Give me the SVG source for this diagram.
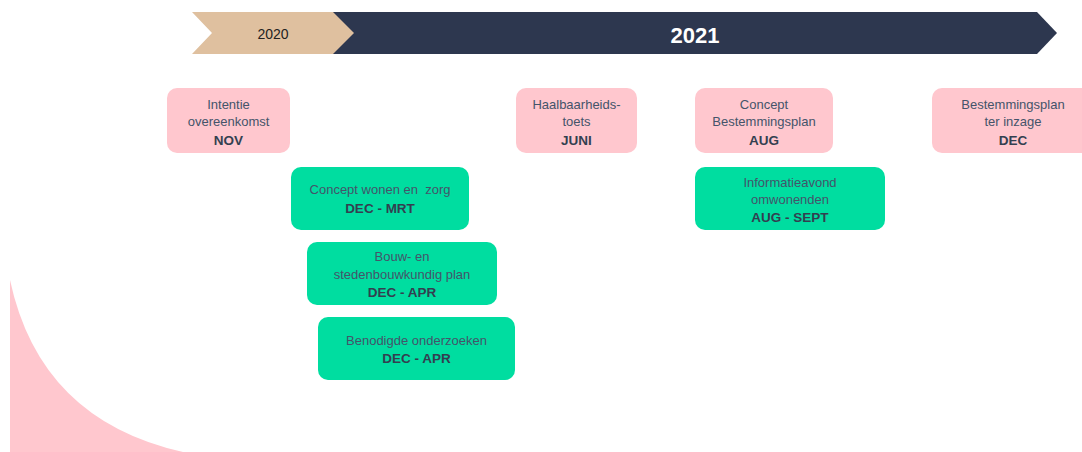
<svg xmlns="http://www.w3.org/2000/svg" width="1082" height="452" viewBox="0 0 1082 452">
<style>
.pink{fill:#FFC7CE}
.green{fill:#00DDA0}
.t{font-family:"Liberation Sans",Arial,sans-serif;font-size:13px;fill:#44546A;text-anchor:middle;white-space:pre}
.b{font-family:"Liberation Sans",Arial,sans-serif;font-size:13.5px;font-weight:bold;fill:#333F50;text-anchor:middle}
</style>
<rect width="1082" height="452" fill="#FFFFFF"/>
<path d="M10,280 Q40,420 183,452 L10,452 Z" class="pink"/>
<g id="timeline">
<polygon points="333,12 1037,12 1057,33 1037,54 333,54" fill="#2D374F"/>
<polygon points="192,12 333,12 354,33 333,54 192,54 212,33" fill="#DFC09F"/>
<text x="273" y="39" font-family="Liberation Sans,Arial,sans-serif" font-size="14" fill="#222" text-anchor="middle">2020</text>
<text x="695" y="43" font-family="Liberation Sans,Arial,sans-serif" font-size="22" font-weight="bold" fill="#FFFFFF" text-anchor="middle">2021</text>
</g>
<g id="n1"><rect x="167" y="88" width="123" height="65" rx="10" class="pink"/>
<text class="t" x="228.5" y="109">Intentie</text><text class="t" x="228.5" y="126">overeenkomst</text><text class="b" x="228.5" y="145">NOV</text></g>
<g id="n2"><rect x="516" y="88" width="121" height="65" rx="10" class="pink"/>
<text class="t" x="576.5" y="109">Haalbaarheids-</text><text class="t" x="576.5" y="126">toets</text><text class="b" x="576.5" y="145">JUNI</text></g>
<g id="n3"><rect x="695" y="88" width="138" height="65" rx="10" class="pink"/>
<text class="t" x="764" y="109">Concept</text><text class="t" x="764" y="126">Bestemmingsplan</text><text class="b" x="764" y="145">AUG</text></g>
<g id="n4"><rect x="932" y="88" width="170" height="65" rx="10" class="pink"/>
<text class="t" x="1013" y="109">Bestemmingsplan</text><text class="t" x="1013" y="126">ter inzage</text><text class="b" x="1013" y="145">DEC</text></g>
<g id="n5"><rect x="291" y="167" width="178" height="63" rx="10" class="green"/>
<text class="t" x="380" y="194">Concept wonen en  zorg</text><text class="b" x="380" y="213">DEC - MRT</text></g>
<g id="n6"><rect x="695" y="167" width="190" height="63" rx="10" class="green"/>
<text class="t" x="790" y="187">Informatieavond</text><text class="t" x="790" y="204">omwonenden</text><text class="b" x="790" y="222">AUG - SEPT</text></g>
<g id="n7"><rect x="307" y="242" width="190" height="63" rx="10" class="green"/>
<text class="t" x="402" y="261">Bouw- en</text><text class="t" x="402" y="279">stedenbouwkundig plan</text><text class="b" x="402" y="297">DEC - APR</text></g>
<g id="n8"><rect x="318" y="317" width="197" height="63" rx="10" class="green"/>
<text class="t" x="416.5" y="345">Benodigde onderzoeken</text><text class="b" x="416.5" y="363">DEC - APR</text></g>
<g id="connectors"></g>
</svg>
